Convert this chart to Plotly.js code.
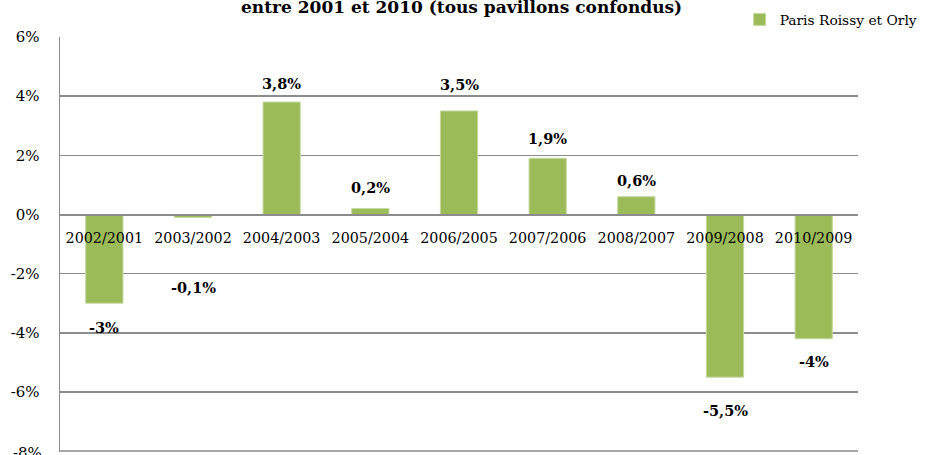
<!DOCTYPE html>
<html>
<head>
<meta charset="utf-8">
<script src="https://cdn.plot.ly/plotly-3.0.1.min.js"></script>
<style>html,body{margin:0;padding:0;background:#fff;}#chart{width:926px;height:455px;}</style>
</head>
<body>
<div id="chart"></div>
<script>
var categories = ["2002/2001","2003/2002","2004/2003","2005/2004","2006/2005","2007/2006","2008/2007","2009/2008","2010/2009"];
var values = [-3.0, -0.1, 3.8, 0.2, 3.5, 1.9, 0.6, -5.5, -4.2];
var valueLabels = ["-3%","-0,1%","3,8%","0,2%","3,5%","1,9%","0,6%","-5,5%","-4%"];
var tickValues = [-8, -6, -4, -2, 0, 2, 4, 6];
var tickLabels = ["-8%","-6%","-4%","-2%","0%","2%","4%","6%"];
var seriesName = "Paris Roissy et Orly";
var titleText = "entre 2001 et 2010 (tous pavillons confondus)";

// label offsets in pixels (style)
var labelShift = [-24, -70, 19, 21, 26, 20, 16, -33, -23];

var serif = "DejaVu Serif, Liberation Serif, serif";
var green = "#9BBB59";
var grid = "#8c8c8c";

var yMin = -8.03, yMax = 6;

var annotations = values.map(function(v, i){
  return {
    x: categories[i], y: v, xref: "x", yref: "y",
    text: "<b>" + valueLabels[i] + "</b>",
    showarrow: false,
    yanchor: "middle",
    yshift: labelShift[i],
    font: {family: serif, size: 14.5, color: "#000"}
  };
});
annotations.push({
  xref: "paper", yref: "paper", x: 0.503, y: 1, yanchor: "bottom", yshift: 18,
  text: "<b>" + titleText + "</b>", showarrow: false,
  font: {family: serif, size: 17, color: "#000"}
});
annotations.push({
  xref: "paper", yref: "y", x: 0, y: -8, xanchor: "right", yanchor: "middle", xshift: -16, yshift: -2,
  text: tickLabels[0], showarrow: false,
  font: {family: serif, size: 15, color: "#000"}
});

var trace = {
  type: "bar",
  x: categories,
  y: values,
  name: seriesName,
  marker: {color: green, line: {color: "#c5d9a0", width: 1}},
  width: 0.42,
  showlegend: true,
  hoverinfo: "none"
};

var layout = {
  width: 926, height: 455,
  margin: {l: 60, r: 65, t: 37, b: 3, pad: 0},
  paper_bgcolor: "#fff", plot_bgcolor: "#fff",
  font: {family: serif, size: 14, color: "#000"},
  showlegend: true,
  legend: {
    x: 1.081, xanchor: "right", y: 1.005, yanchor: "bottom", yref: "paper",
    font: {family: serif, size: 13.8, color: "#000"},
    bgcolor: "rgba(0,0,0,0)", itemwidth: 30
  },
  xaxis: {
    type: "category",
    anchor: "free",
    position: (0 - yMin) / (yMax - yMin),
    showline: true, linecolor: grid, linewidth: 1.5,
    showgrid: false, zeroline: false,
    ticks: "", ticklabelstandoff: 10,
    tickfont: {family: serif, size: 14.3, color: "#000"},
    fixedrange: true
  },
  yaxis: {
    range: [yMin, yMax],
    tickvals: tickValues.slice(1), ticktext: tickLabels.slice(1),
    showgrid: true, gridcolor: grid, gridwidth: 1.5,
    zeroline: false,
    showline: true, linecolor: grid, linewidth: 1.5,
    ticks: "", ticklabelstandoff: 16,
    tickfont: {family: serif, size: 15, color: "#000"},
    fixedrange: true
  },
  shapes: [{
    type: "line", xref: "paper", yref: "y", x0: 0, x1: 1, y0: -8, y1: -8,
    line: {color: grid, width: 1.5}
  }],
  bargap: 0.58,
  annotations: annotations
};

Plotly.newPlot("chart", [trace], layout, {displayModeBar: false, staticPlot: true});
</script>
</body>
</html>
